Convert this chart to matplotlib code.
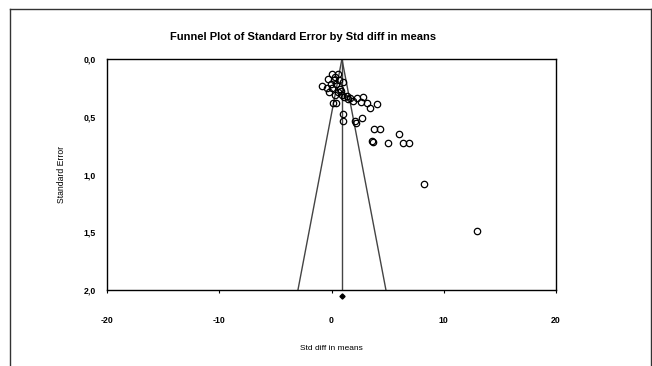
import matplotlib
matplotlib.use("Agg")
import matplotlib.pyplot as plt
from matplotlib.lines import Line2D
import numpy as np

plt.rcParams['font.family'] = ['Liberation Sans', 'DejaVu Sans']

# Study effects (Std diff in means) and standard errors
std_diff = [0.04, 0.55, -0.29, 0.20, 0.69, 1.05, -0.04, 0.37, -0.85, -0.37,
            0.04, 0.76, -0.22, 0.34, 0.91, 1.35, 1.65, 1.94, 2.30, 2.78,
            2.63, 3.14, 3.43, 4.08, 0.11, 0.40, 1.05, 1.05, 2.09, 2.14,
            2.74, 3.83, 4.32, 6.04, 3.61, 3.74, 5.06, 6.40, 6.90, 8.27,
            12.99, 0.60, 1.15, 1.50, 0.30, 0.85]
std_err = [0.13, 0.13, 0.17, 0.18, 0.18, 0.20, 0.22, 0.22, 0.23, 0.25,
           0.25, 0.26, 0.29, 0.31, 0.31, 0.32, 0.34, 0.36, 0.34, 0.33,
           0.37, 0.38, 0.42, 0.39, 0.38, 0.38, 0.48, 0.54, 0.54, 0.55,
           0.51, 0.61, 0.61, 0.65, 0.71, 0.72, 0.73, 0.73, 0.73, 1.08,
           1.49, 0.29, 0.33, 0.35, 0.16, 0.28]
pooled = 0.93

x_ticks = [-20, -10, 0, 10, 20]
y_ticks = [0.0, 0.5, 1.0, 1.5, 2.0]
y_tick_labels = ["0,0", "0,5", "1,0", "1,5", "2,0"]

fig = plt.figure(figsize=(6.52, 3.66), dpi=100)
ax = fig.add_axes([107/652, 1-290/366, (556-107)/652, (290-59)/366])

se_max = 2.0
ax.plot([pooled, pooled - 1.96*se_max], [0, se_max], color='#444444', lw=1.0)
ax.plot([pooled, pooled + 1.96*se_max], [0, se_max], color='#444444', lw=1.0)
ax.plot([pooled, pooled], [0, se_max], color='#444444', lw=1.0)

ax.plot(std_diff, std_err, linestyle='none', marker='o', markersize=4.6,
        markerfacecolor='none', markeredgecolor='black', markeredgewidth=0.9)

ax.plot([pooled], [2.05], marker='D', markersize=2.6, color='black', clip_on=False,
        linestyle='none')

ax.set_xlim(-20, 20)
ax.set_ylim(2.0, 0.0)
ax.set_xticks(x_ticks)
ax.set_xticklabels([str(t) for t in x_ticks], fontsize=6.3, fontweight='bold')
ax.set_yticks(y_ticks)
ax.set_yticklabels(y_tick_labels, fontsize=6.3, fontweight='bold')
ax.tick_params(axis='x', direction='out', length=2, width=0.8, pad=17)
ax.tick_params(axis='y', direction='out', length=0, pad=8)
for s in ax.spines.values():
    s.set_linewidth(1.0)

ax.set_xlabel("Std diff in means", fontsize=6, labelpad=14)
ax.set_ylabel("Standard Error", fontsize=6.2, labelpad=13)

fig.text(303/652, 1-37/366, "Funnel Plot of Standard Error by Std diff in means",
         ha='center', va='center', fontsize=8, fontweight='bold')

# outer frame
fig.add_artist(Line2D([9.5/652, 9.5/652], [0, 1-8.5/366], color='#333333', lw=1.0,
                      transform=fig.transFigure))
fig.add_artist(Line2D([9.5/652, 650.5/652], [1-8.5/366, 1-8.5/366], color='#333333',
                      lw=1.0, transform=fig.transFigure))
fig.add_artist(Line2D([650.5/652, 650.5/652], [0, 1-8.5/366], color='#333333', lw=1.0,
                      transform=fig.transFigure))

fig.savefig("out.png", dpi=100)
